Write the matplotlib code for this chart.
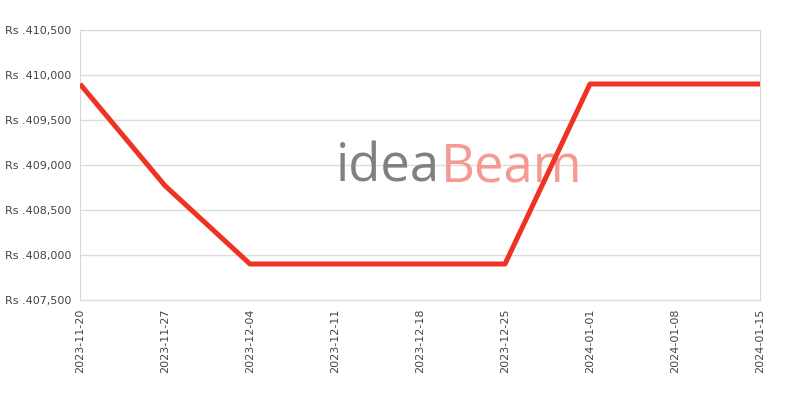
import pandas as pd
import matplotlib.pyplot as plt
import matplotlib.dates as mdates
from matplotlib.ticker import FuncFormatter

dates = ['2023-11-20', '2023-11-27', '2023-12-04', '2023-12-11', '2023-12-18',
         '2023-12-25', '2024-01-01', '2024-01-08', '2024-01-15']
prices = [409900, 408770, 407900, 407900, 407900, 407900, 409900, 409900, 409900]
y_ticks = [407500, 408000, 408500, 409000, 409500, 410000, 410500]

df = pd.DataFrame({'Date': pd.to_datetime(dates), 'Price': prices})

fig = plt.figure(figsize=(8, 4), dpi=100)
ax = fig.add_axes([0.1, 0.25, 0.85, 0.675])

# watermark
ax.text(0.53, 0.49, 'idea', transform=ax.transAxes, fontsize=38, color='#808080',
        ha='right', va='center', zorder=1, family='Open Sans')
ax.text(0.53, 0.49, 'Beam', transform=ax.transAxes, fontsize=38, color='#f59a92',
        ha='left', va='center', zorder=1, family='Open Sans')

ax.plot(df['Date'], df['Price'], color='#ee3224', linewidth=3.6, zorder=3,
        solid_capstyle='butt')

ax.set_xlim(df['Date'].iloc[0], df['Date'].iloc[-1])
ax.set_ylim(407500, 410500)
ax.set_yticks(y_ticks)
ax.yaxis.set_major_formatter(FuncFormatter(lambda v, p: 'Rs .{:,.0f}'.format(v)))
ax.set_xticks(df['Date'])
ax.xaxis.set_major_formatter(mdates.DateFormatter('%Y-%m-%d'))
plt.setp(ax.get_xticklabels(), rotation=90)

ax.grid(True, axis='y', color='#dddddd', linewidth=1)
ax.set_axisbelow(True)
for s in ax.spines.values():
    s.set_color('#d8d8d8')
ax.tick_params(length=0, labelsize=8, labelcolor='#444444', pad=6)

fig.savefig('out.png', dpi=100)
